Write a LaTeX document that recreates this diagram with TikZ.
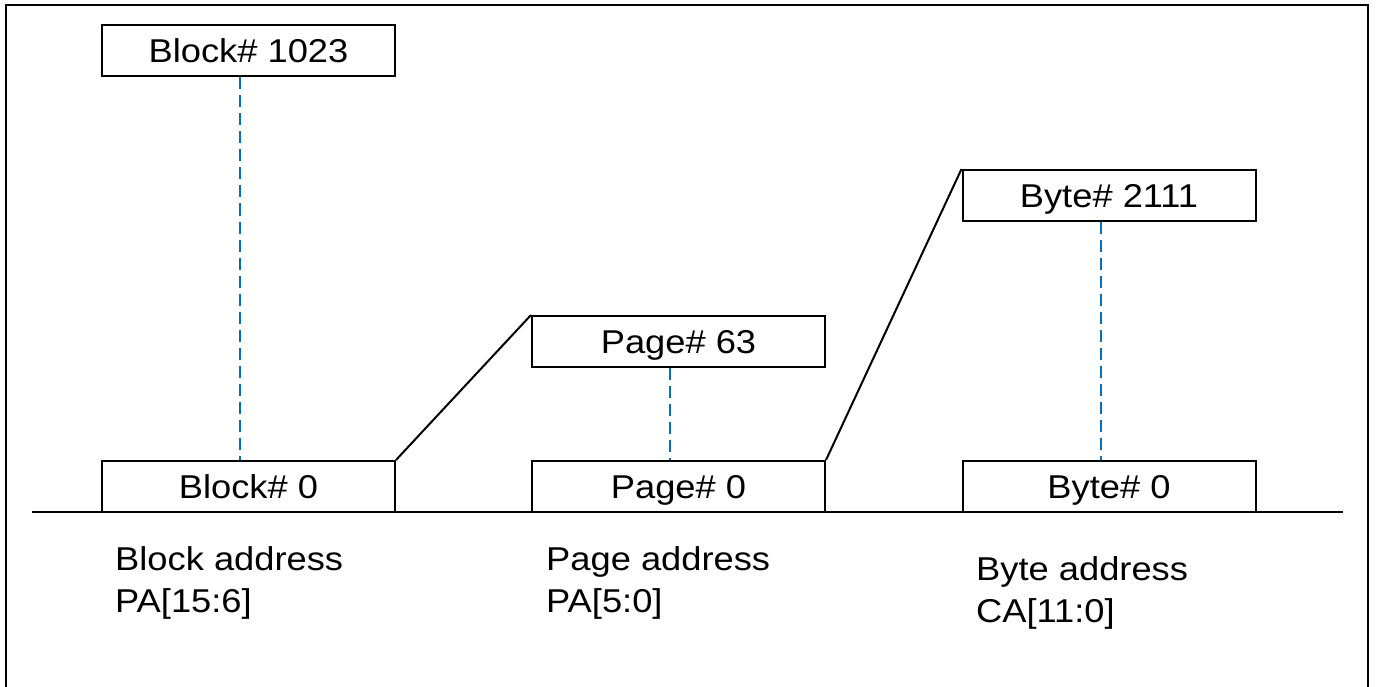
\documentclass[tikz,border=0pt]{standalone}
\usepackage{fontspec}
\setmainfont[FakeStretch=1.1]{Liberation Sans}
\usetikzlibrary{positioning,calc}
\definecolor{dashblue}{RGB}{0,112,192}
\tikzset{rect/.style={
    draw,
    rectangle,
    line width=2pt,
    minimum width=293pt,
    minimum height=51pt,
    inner sep=0pt,
    text height=23.6pt,
    text depth=0pt,
    font=\fontsize{33}{42}\selectfont,
    align=center,
  }}
\tikzset{lbl/.style={
    anchor=north west,
    inner sep=0pt,
    align=left,
    font=\fontsize{33}{42}\selectfont,
  }}
\tikzset{link/.style={dashblue,line width=2pt,dash pattern=on 12pt off 6pt}}

\begin{document}
\begin{tikzpicture}[x=1pt,y=-1pt]
        \useasboundingbox (0,0) rectangle (1378,687);
        \draw[line width=2pt] (6,700) |- (1368,5) -- (1368,700);

        \node (blockhi) [rect] at (248.5,51) {Block\# 1023};
        \node (blocklo) [rect] at (248.5,486.5) {Block\# 0};
        \node (pagehi) [rect] at (678.5,341.5) {Page\# 63};
        \node (pagelo) [rect] at (678.5,486.5) {Page\# 0};
        \node (bytehi) [rect] at (1109,195.5) {Byte\# 2111};
        \node (bytelo) [rect] at (1109,486.5) {Byte\# 0};

        \coordinate (axisl) at (32,512);
        \coordinate (axisr) at (1343,512);
        \draw[line width=2pt] (axisl) -- (axisr);

        \draw [link] ($(blockhi.south) + (-8.5,0)$) -- ($(blocklo.north) + (-8.5,0)$);
        \draw [link] ($(pagehi.south) + (-8.5,0)$) -- ($(pagelo.north) + (-8.5,0)$);
        \draw [link] ($(bytehi.south) + (-8.5,0)$) -- ($(bytelo.north) + (-8.5,0)$);

        \draw [line width=2pt] (blocklo.north east) -- (pagehi.north west);
        \draw [line width=2pt] (pagelo.north east) -- (bytehi.north west);

        \node (blockaddr) [lbl] at (115,546) {Block address\\PA[15:6]};
        \node (pageaddr) [lbl] at (546,546) {Page address\\PA[5:0]};
        \node (byteaddr) [lbl] at (976,556) {Byte address\\CA[11:0]};

      \end{tikzpicture}
\end{document}
